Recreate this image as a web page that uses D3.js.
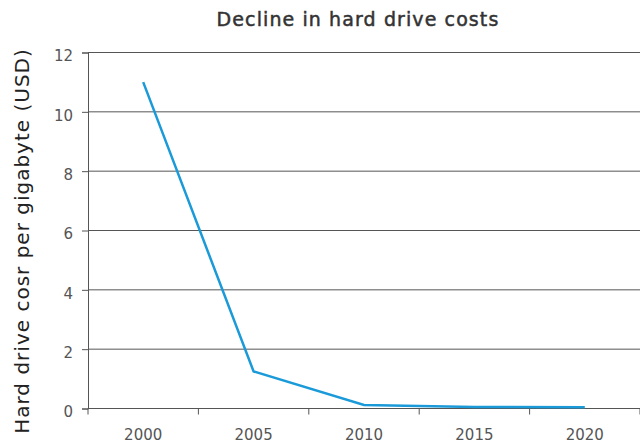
<!DOCTYPE html>
<html><head><meta charset="utf-8">
<script src="https://cdn.jsdelivr.net/npm/d3@7"></script>
<style>body{margin:0;background:#fff}svg{display:block}text{font-family:"DejaVu Sans",sans-serif}</style>
</head><body><svg id="c" width="640" height="444"></svg>
<script>
const years = ["2000","2005","2010","2015","2020"];
const costs = [11, 1.25, 0.12, 0.05, 0.04];
const yTicks = [0,2,4,6,8,10,12];
const title = "Decline in hard drive costs";
const yLabel = "Hard drive cosr per gigabyte (USD)";

const svg = d3.select("#c");
const m = {l:88, r:640, t:52.5, b:408.5};
const x = d3.scaleBand().domain(years).range([m.l, m.r]).padding(0);
const y = d3.scaleLinear().domain([0,12]).range([m.b, m.t]);

// gridlines
svg.append("g").selectAll("line").data(yTicks).join("line")
  .attr("x1", m.l).attr("x2", m.r)
  .attr("y1", d=>y(d)).attr("y2", d=>y(d))
  .attr("stroke", "#555").attr("stroke-width", 1);

// y axis
const ya = svg.append("g").attr("transform",`translate(${m.l},0)`)
  .call(d3.axisLeft(y).tickValues(yTicks).tickSize(6).tickPadding(9));
ya.select(".domain").attr("stroke","#555");
ya.selectAll(".tick line").attr("stroke","#555");
ya.selectAll("text").attr("fill","#555").attr("dy","0.55em").style("font-size","15px");

// x axis
const xa = svg.append("g").attr("transform",`translate(0,${m.b})`)
  .call(d3.axisBottom(x).tickSize(0).tickPadding(21));
xa.select(".domain").remove();
xa.selectAll("text").attr("fill","#555").style("font-size","15px");
// band boundary ticks
const bounds = years.map(d=>x(d)).concat([m.r]);
svg.append("g").selectAll("line").data(bounds).join("line")
  .attr("x1", d=>d).attr("x2", d=>d)
  .attr("y1", m.b).attr("y2", m.b+6)
  .attr("stroke","#555");

// line
const line = d3.line().x((d,i)=>x(years[i])+x.bandwidth()/2).y(d=>y(d));
svg.append("path").datum(costs).attr("d", line)
  .attr("fill","none").attr("stroke","#1a9ad8").attr("stroke-width",2.5);

svg.append("text").attr("x",358).attr("y",26).attr("text-anchor","middle")
  .attr("fill","#333").attr("stroke","#333").attr("stroke-width",0.5)
  .style("font-size","19px").style("letter-spacing","1.1px").text(title);

svg.append("text").attr("transform","translate(29,241) rotate(-90)")
  .attr("text-anchor","middle").attr("fill","#222").style("font-size","20px")
  .style("letter-spacing","1px").text(yLabel);
</script></body></html>
